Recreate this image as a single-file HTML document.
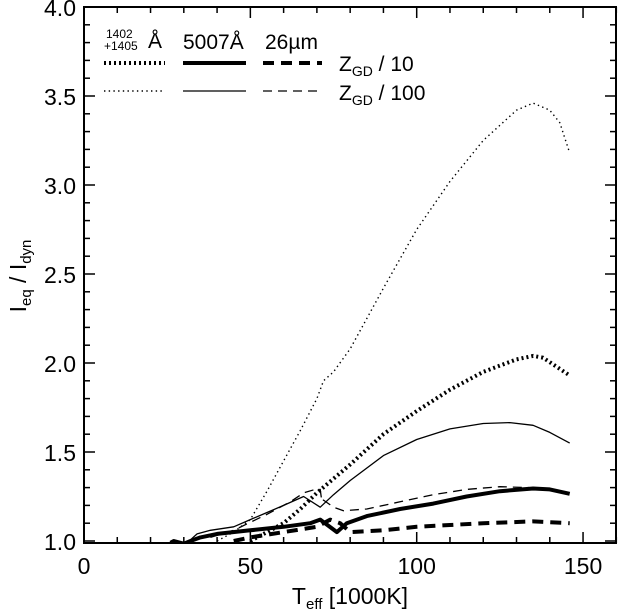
<!DOCTYPE html>
<html><head><meta charset="utf-8"><style>
body{margin:0;background:#fff;}
svg{display:block;font-family:"Liberation Sans",sans-serif;}
</style></head><body>
<svg id="c" width="618" height="609" viewBox="0 0 618 609"></svg>
<script>
const civ10_x=[50,55,60,65,70,75,80,90,100,110,120,130,135,138,142,146];
const civ10_y=[1.0,1.05,1.10,1.18,1.27,1.35,1.43,1.60,1.73,1.85,1.95,2.02,2.04,2.03,1.98,1.93];
const civ100_x=[40,45,50,55,60,65,70,72,75,80,90,100,110,120,130,135,140,143,146];
const civ100_y=[1.0,1.05,1.12,1.28,1.45,1.62,1.80,1.90,1.95,2.08,2.42,2.75,3.02,3.25,3.42,3.46,3.42,3.35,3.18];
const oiii10_x=[26,27,30,32,35,40,50,60,68,71,76,79,85,95,105,115,125,135,140,146];
const oiii10_y=[0.99,1.0,0.985,1.0,1.02,1.04,1.06,1.08,1.10,1.12,1.05,1.10,1.14,1.18,1.21,1.25,1.28,1.295,1.29,1.265];
const oiii100_x=[31,34,38,45,50,55,60,66,71,75,80,90,100,110,120,128,135,140,146];
const oiii100_y=[0.99,1.04,1.06,1.08,1.12,1.16,1.20,1.25,1.19,1.26,1.34,1.48,1.57,1.63,1.66,1.665,1.65,1.61,1.55];
const ne10_x=[45,50,60,70,74,77,80,90,100,110,120,135,146];
const ne10_y=[1.0,1.02,1.05,1.08,1.12,1.10,1.05,1.06,1.08,1.09,1.10,1.11,1.10];
const ne100_x=[38,45,55,62,66,69.5,71,71.5,72,75,78,85,95,105,115,125,134];
const ne100_y=[1.02,1.06,1.15,1.22,1.27,1.29,1.29,1.22,1.23,1.19,1.17,1.18,1.22,1.26,1.29,1.305,1.30];
const xTicks=[0,50,100,150];
const yTicks=[1.0,1.5,2.0,2.5,3.0,3.5,4.0];

const L=84,R=616,T=7,B=543;
const X=v=>84+(v)*3.327;
const Y=v=>541-(v-1)*178;
const NS='http://www.w3.org/2000/svg';
const svg=document.getElementById('c');
function mk(tag,attrs,parent){const e=document.createElementNS(NS,tag);for(const k in attrs)e.setAttribute(k,attrs[k]);(parent||svg).appendChild(e);return e;}
const defs=mk('defs',{});
const cp=mk('clipPath',{id:'clip'},defs);
mk('rect',{x:L,y:T,width:R-L,height:B-T},cp);
const g=mk('g',{'clip-path':'url(#clip)'});


function series(xs,ys,w,dash,name){
  const d=xs.map((x,i)=>(i?'L':'M')+X(x).toFixed(1)+' '+Y(ys[i]).toFixed(1)).join(' ');
  const p=mk('path',{d:d,fill:'none',stroke:'#000','stroke-width':w,'stroke-dasharray':dash,'stroke-linejoin':'round'},g);
  
  
}
series(civ100_x,civ100_y,1.4,'1.4 3.3','civ-z100-line');
series(civ10_x,civ10_y,4,'2 3','civ-z10-line');
series(oiii100_x,oiii100_y,1.3,'none','oiii-z100-line');
series(oiii10_x,oiii10_y,4,'none','oiii-z10-line');
series(ne100_x,ne100_y,1.3,'9 6','ne-z100-line');
series(ne10_x,ne10_y,4,'11 7','ne-z10-line');
const ax=mk('rect',{x:L,y:T,width:R-L,height:B-T,fill:'none',stroke:'#000','stroke-width':2});


for(let v=0;v<=160;v+=10){
  const len=v%50===0?11:6;
  mk('line',{x1:X(v),x2:X(v),y1:B,y2:B-len,stroke:'#000','stroke-width':1.5});
  mk('line',{x1:X(v),x2:X(v),y1:T,y2:T+len,stroke:'#000','stroke-width':1.5});
}
for(let i=10;i<=40;i++){
  const v=i/10,len=i%5===0?11:6;
  mk('line',{x1:L,x2:L+len,y1:Y(v),y2:Y(v),stroke:'#000','stroke-width':1.5});
  mk('line',{x1:R,x2:R-len,y1:Y(v),y2:Y(v),stroke:'#000','stroke-width':1.5});
}
xTicks.forEach(v=>{const t=mk('text',{x:X(v),y:574,'font-size':23,'text-anchor':'middle'});t.textContent=v;

});
yTicks.forEach(v=>{const t=mk('text',{x:76,y:Y(v)+9,'font-size':23,'text-anchor':'end'});t.textContent=v.toFixed(1);

});
</script>
<svg width="618" height="609" style="position:absolute;left:0;top:0">
<g font-family="Liberation Sans, sans-serif" fill="#000">
<text x="350" y="604" font-size="23" text-anchor="middle">T<tspan font-size="15" dy="5">eff</tspan><tspan dy="-5"> [1000K]</tspan></text>
<text transform="translate(26,276) rotate(-90)" font-size="23" text-anchor="middle">I<tspan font-size="15" dy="5">eq</tspan><tspan dy="-5"> / I</tspan><tspan font-size="15" dy="5">dyn</tspan></text>
<g>
<text x="106" y="38" font-size="12">1402</text>
<text x="104" y="50" font-size="12">+1405</text>
<text x="148" y="48" font-size="21">Å</text>
<text x="183" y="49" font-size="21">5007Å</text>
<text x="265" y="49" font-size="21">26µm</text>
<line x1="104" x2="165" y1="63" y2="63" stroke="#000" stroke-width="4" stroke-dasharray="2 3"/>
<line x1="183" x2="246" y1="63" y2="63" stroke="#000" stroke-width="4"/>
<line x1="263" x2="322" y1="63" y2="63" stroke="#000" stroke-width="4" stroke-dasharray="11 7"/>
<line x1="104" x2="165" y1="91" y2="91" stroke="#000" stroke-width="1.4" stroke-dasharray="1.4 3.3"/>
<line x1="183" x2="246" y1="91" y2="91" stroke="#000" stroke-width="1.3"/>
<line x1="263" x2="322" y1="91" y2="91" stroke="#000" stroke-width="1.3" stroke-dasharray="9 6"/>
<text x="339" y="71" font-size="21">Z<tspan font-size="14" dy="5">GD</tspan><tspan dy="-5"> / 10</tspan></text>
<text x="339" y="100" font-size="21">Z<tspan font-size="14" dy="5">GD</tspan><tspan dy="-5"> / 100</tspan></text>
</g>
</g>
</svg>
</body></html>
